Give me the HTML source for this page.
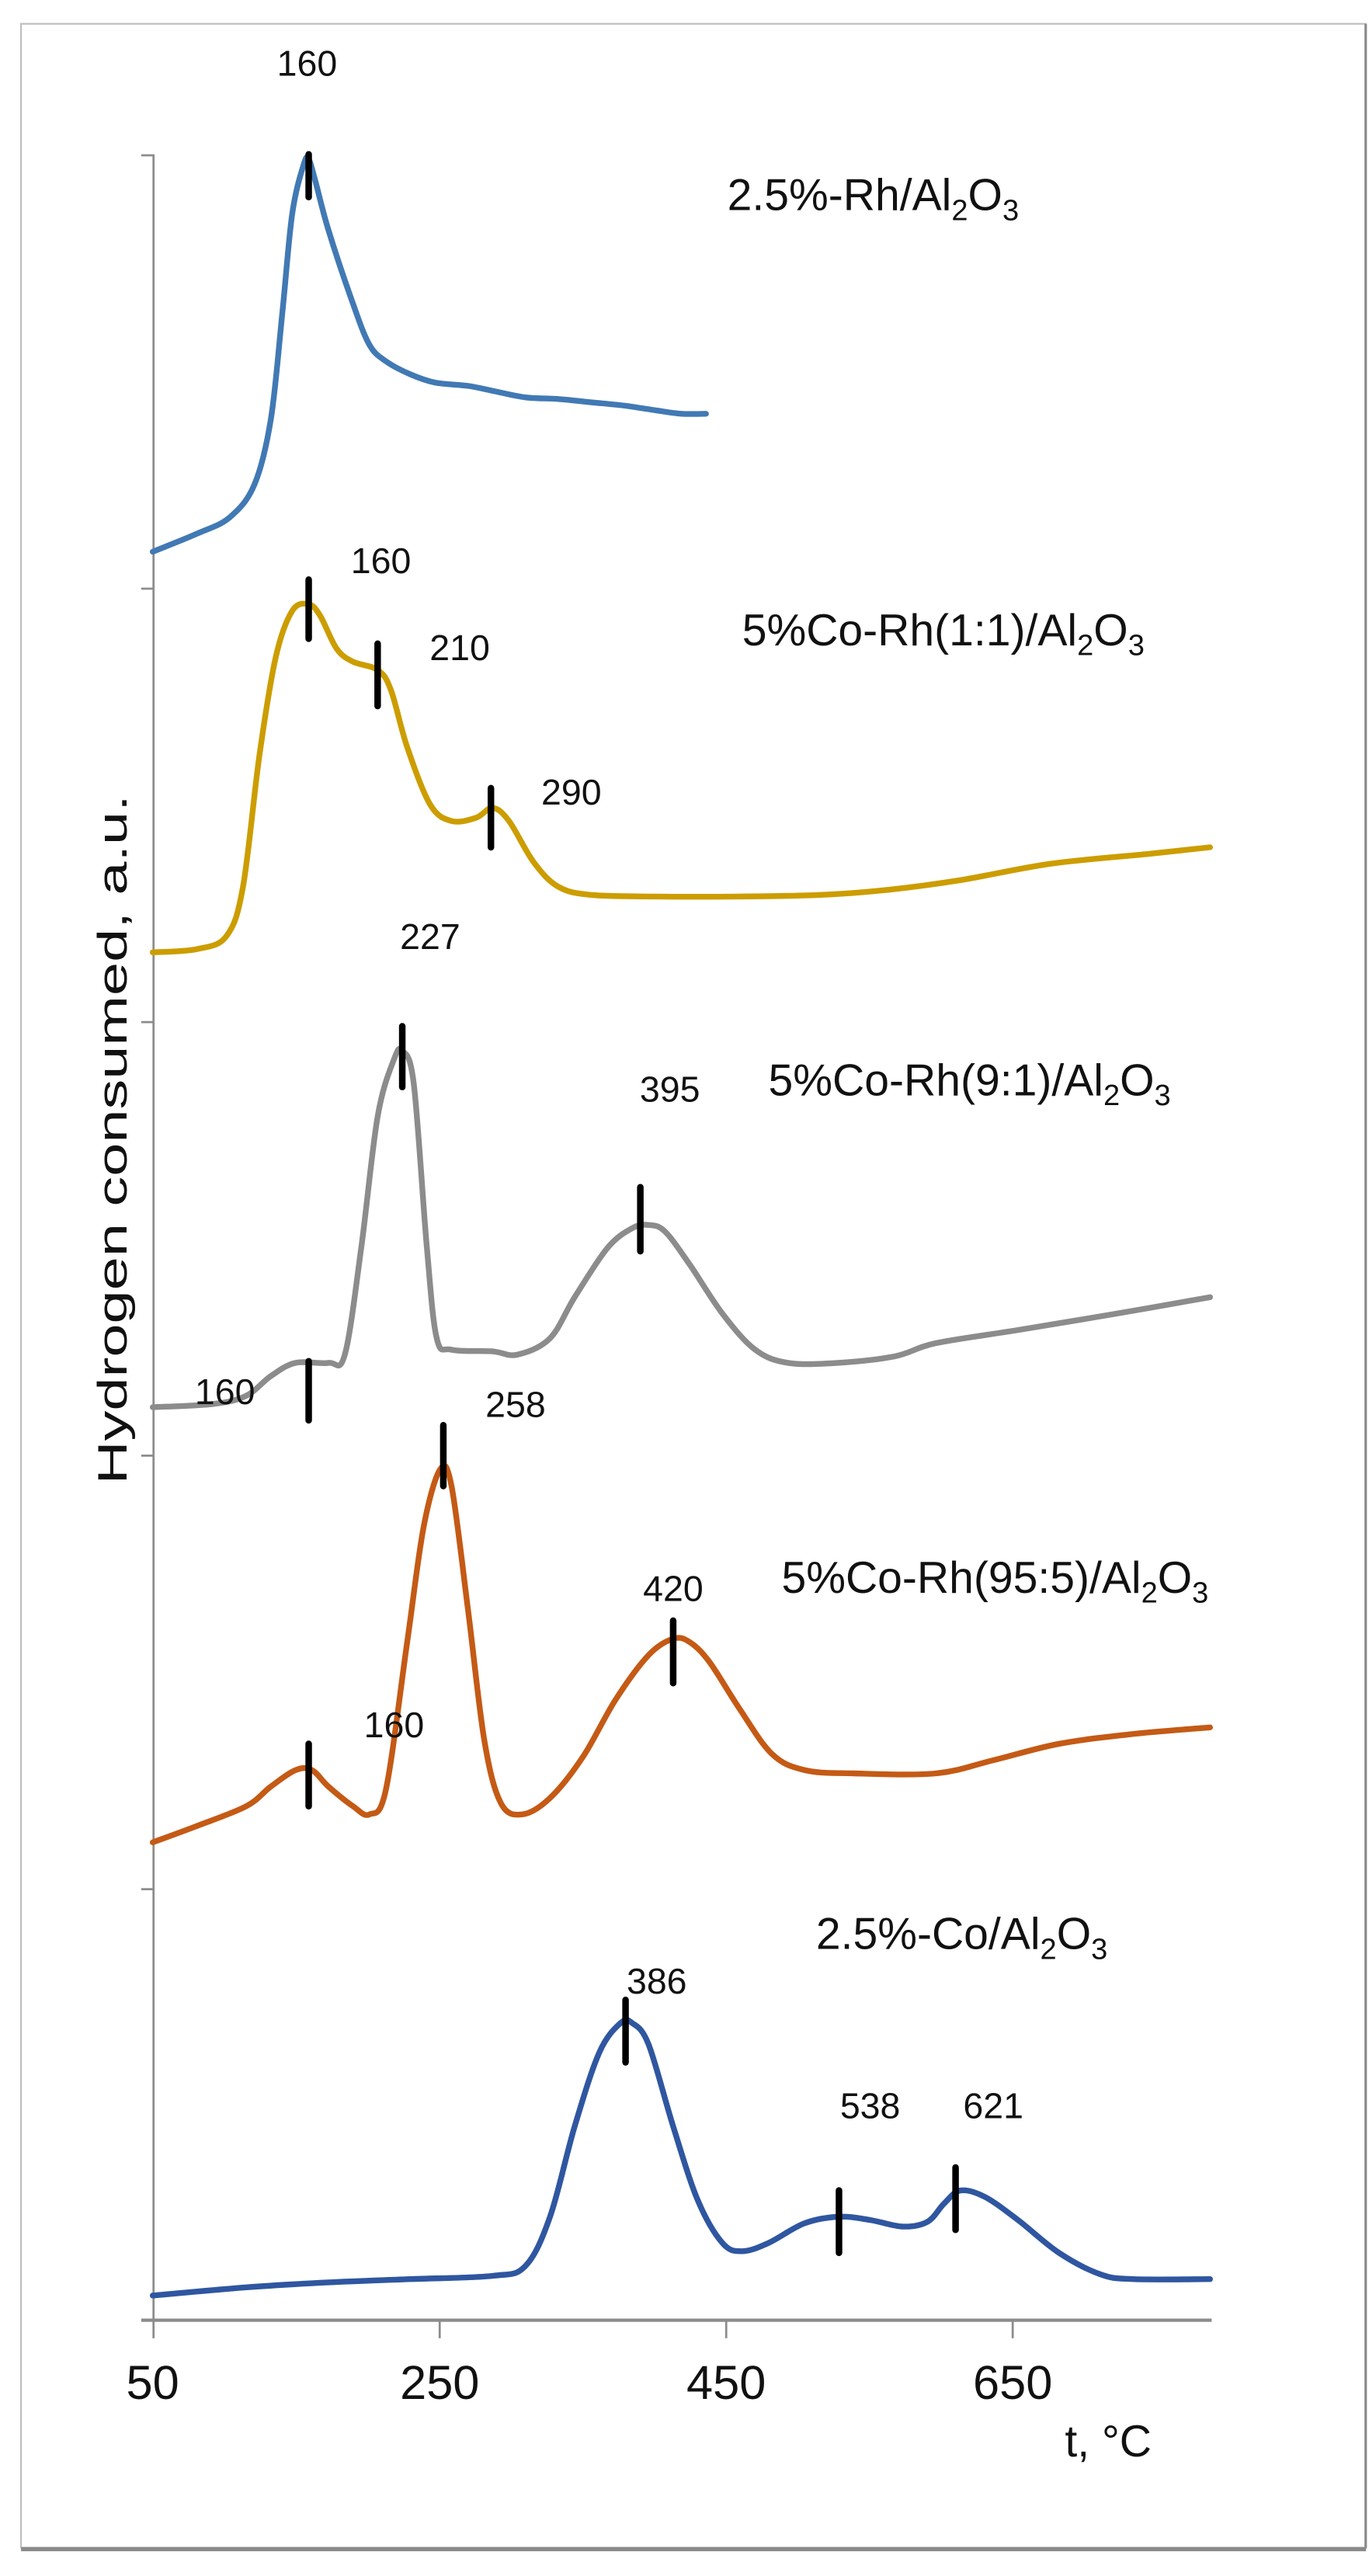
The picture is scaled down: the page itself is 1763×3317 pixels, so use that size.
<!DOCTYPE html>
<html><head><meta charset="utf-8"><style>html,body{margin:0;padding:0;background:#fff}svg{display:block}</style></head>
<body>
<svg id="c" width="1763" height="3317" viewBox="0 0 833.8 1568.8" xmlns="http://www.w3.org/2000/svg" font-family="'Liberation Sans', sans-serif">
<rect x="0" y="0" width="833.8" height="1568.8" fill="#fff"/>
<rect x="12.8" y="14.5" width="819" height="1537" fill="none" stroke="#bdbdbd" stroke-width="1"/>
<line x1="12.8" y1="1552.5" x2="832" y2="1552.5" stroke="#8a8a8a" stroke-width="2.5"/>
<line x1="831.8" y1="14.5" x2="831.8" y2="1552" stroke="#8a8a8a" stroke-width="1.5"/>
<g stroke="#8c8c8c" stroke-width="1.3" fill="none">
<line x1="93.5" y1="94" x2="93.5" y2="1424"/>
<line x1="86" y1="94.6" x2="93.5" y2="94.6"/>
<line x1="86" y1="358.5" x2="93.5" y2="358.5"/>
<line x1="86" y1="622.5" x2="93.5" y2="622.5"/>
<line x1="86" y1="886.5" x2="93.5" y2="886.5"/>
<line x1="86" y1="1150.5" x2="93.5" y2="1150.5"/>
<line x1="86" y1="1413" x2="738" y2="1413" stroke-width="2"/>
<line x1="267.8" y1="1413" x2="267.8" y2="1424"/>
<line x1="442.3" y1="1413" x2="442.3" y2="1424"/>
<line x1="616.8" y1="1413" x2="616.8" y2="1424"/>
</g>
<g font-size="29" fill="#111" text-anchor="middle">
<text x="93" y="1461">50</text>
<text x="267.8" y="1461">250</text>
<text x="442.3" y="1461">450</text>
<text x="616.8" y="1461">650</text>
<text x="675" y="1496" font-size="27">t, °C</text>
</g>
<text transform="translate(77,694) rotate(-90)" text-anchor="middle" font-size="25" fill="#111" textLength="420" lengthAdjust="spacingAndGlyphs">Hydrogen consumed, a.u.</text>
<g fill="none" stroke-width="3.5" stroke-linejoin="round" stroke-linecap="round">
<polyline class="s" stroke="#4179b4" points="93,336 120,325 140,315 155,295 165,255 172,190 178,130 185,100 188,97 192,110 200,140 215,185 225,210 235,220 250,228 265,233 285,235 300,238 320,242 340,243 360,245 380,247 400,250 415,252 430,252"/>
<polyline class="s" stroke="#cc9d00" points="93,580 120,578 138,570 148,540 158,460 168,400 178,372 188,368 195,375 205,395 215,403 230,408 238,420 248,455 262,490 275,500 290,498 300,492 310,500 325,525 340,540 360,545 400,546 450,546 500,545 540,542 585,536 640,526 700,520 737,516"/>
<polyline class="s" stroke="#8c8c8c" points="93,857 130,855 150,850 165,838 180,830 200,830 210,825 220,760 230,680 240,645 245,640 252,660 260,760 266,815 275,822 300,823 315,825 335,815 350,790 370,760 385,748 395,746 405,750 420,770 440,800 460,822 480,830 510,830 545,826 570,818 620,810 680,800 737,790"/>
<polyline class="s" stroke="#c45a15" points="93,1122 120,1112 150,1100 165,1088 180,1078 190,1078 200,1088 215,1100 225,1105 235,1090 248,1000 258,930 268,895 275,905 285,980 295,1060 305,1098 318,1105 335,1095 355,1070 375,1035 395,1008 410,998 420,1000 432,1012 450,1040 470,1068 490,1078 520,1080 570,1080 605,1072 645,1062 690,1056 737,1052"/>
<polyline class="s" stroke="#2f56a0" points="93,1398 150,1393 200,1390 250,1388 300,1386 320,1380 335,1350 350,1295 365,1250 378,1232 385,1232 395,1245 410,1295 425,1340 440,1366 452,1371 468,1366 490,1354 511,1350 530,1352 550,1356 565,1353 575,1342 585,1334 600,1338 620,1352 645,1372 670,1385 690,1388 737,1388"/>
</g>
<g stroke="#000" stroke-width="4" stroke-linecap="round">
<line x1="188" y1="94" x2="188" y2="120"/>
<line x1="188" y1="353" x2="188" y2="389"/>
<line x1="230" y1="392" x2="230" y2="430"/>
<line x1="299" y1="480" x2="299" y2="516"/>
<line x1="245" y1="625" x2="245" y2="662"/>
<line x1="188" y1="829" x2="188" y2="865"/>
<line x1="390" y1="723" x2="390" y2="762"/>
<line x1="270" y1="868" x2="270" y2="905"/>
<line x1="188" y1="1062" x2="188" y2="1100"/>
<line x1="410" y1="987" x2="410" y2="1025"/>
<line x1="381" y1="1218" x2="381" y2="1256"/>
<line x1="511" y1="1334" x2="511" y2="1372"/>
<line x1="582" y1="1320" x2="582" y2="1358"/>
</g>
<g font-size="22" fill="#111" text-anchor="middle">
<text x="187" y="46">160</text>
<text x="232" y="349">160</text>
<text x="280" y="402">210</text>
<text x="348" y="490">290</text>
<text x="262" y="578">227</text>
<text x="408" y="671">395</text>
<text x="137" y="855">160</text>
<text x="314" y="863">258</text>
<text x="410" y="975">420</text>
<text x="240" y="1058">160</text>
<text x="400" y="1214">386</text>
<text x="530" y="1290">538</text>
<text x="605" y="1290">621</text>
</g>
<g font-size="27" fill="#111">
<text x="443" y="128">2.5%-Rh/Al<tspan font-size="18" dy="6">2</tspan><tspan dy="-6">O</tspan><tspan font-size="18" dy="6">3</tspan></text>
<text x="452" y="393">5%Co-Rh(1:1)/Al<tspan font-size="18" dy="6">2</tspan><tspan dy="-6">O</tspan><tspan font-size="18" dy="6">3</tspan></text>
<text x="468" y="667">5%Co-Rh(9:1)/Al<tspan font-size="18" dy="6">2</tspan><tspan dy="-6">O</tspan><tspan font-size="18" dy="6">3</tspan></text>
<text x="476" y="970">5%Co-Rh(95:5)/Al<tspan font-size="18" dy="6">2</tspan><tspan dy="-6">O</tspan><tspan font-size="18" dy="6">3</tspan></text>
<text x="497" y="1187">2.5%-Co/Al<tspan font-size="18" dy="6">2</tspan><tspan dy="-6">O</tspan><tspan font-size="18" dy="6">3</tspan></text>
</g>
</svg>
<script>
(function(){
var ns="http://www.w3.org/2000/svg";
var ls=document.querySelectorAll("polyline.s");
for(var k=0;k<ls.length;k++){
var pl=ls[k];
var a=pl.getAttribute("points").trim().split(/\s+/).map(function(s){var q=s.split(",");return [+q[0],+q[1]];});
var d="M"+a[0][0]+","+a[0][1];
for(var i=0;i<a.length-1;i++){
var p0=a[i>0?i-1:i],p1=a[i],p2=a[i+1],p3=a[i+2<a.length?i+2:i+1];
var c1x=p1[0]+(p2[0]-p0[0])/6,c1y=p1[1]+(p2[1]-p0[1])/6;
var c2x=p2[0]-(p3[0]-p1[0])/6,c2y=p2[1]-(p3[1]-p1[1])/6;
d+=" C"+c1x.toFixed(2)+","+c1y.toFixed(2)+" "+c2x.toFixed(2)+","+c2y.toFixed(2)+" "+p2[0]+","+p2[1];
}
var p=document.createElementNS(ns,"path");
p.setAttribute("d",d);p.setAttribute("stroke",pl.getAttribute("stroke"));
pl.parentNode.replaceChild(p,pl);
}
})();
</script>
</body></html>
